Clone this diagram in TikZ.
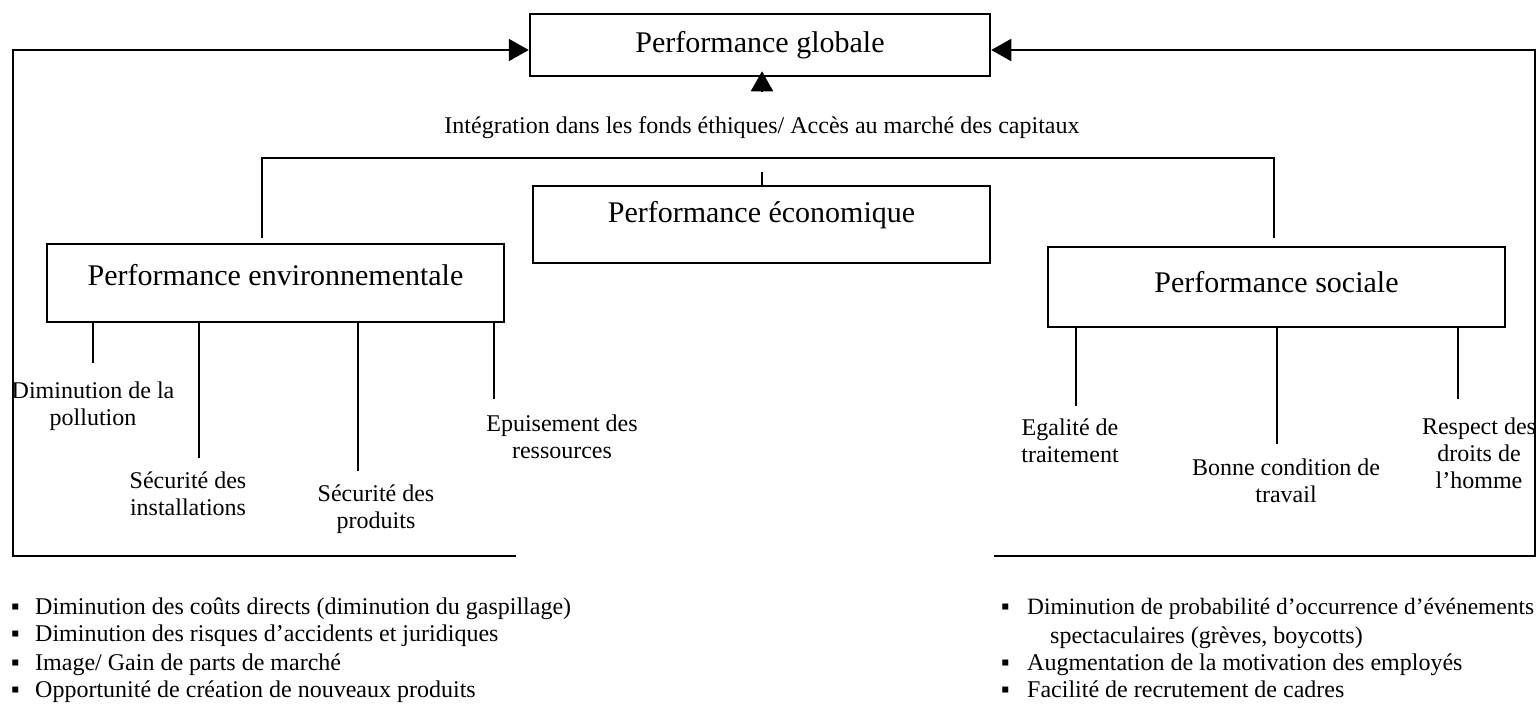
\documentclass[tikz,border=0pt]{standalone}
\usepackage{fontspec}
\setmainfont{Liberation Serif}
\usetikzlibrary{arrows.meta}
\begin{document}
\begin{tikzpicture}[x=1pt,y=-1pt,
  box/.style={draw=black, line width=2.5pt, inner sep=0pt},
  ln/.style={line width=2pt, line cap=rect},
  arr/.style={line width=2pt, -{Triangle[length=20pt,width=22pt]}},
  title/.style={font=\fontsize{30}{34}\selectfont, inner sep=0pt},
  lbl/.style={font=\fontsize{24}{27}\selectfont, align=center, inner sep=0pt},
  itm/.style={font=\fontsize{24}{27}\selectfont, anchor=base west, inner sep=0pt}
]
\useasboundingbox (0,0) rectangle (1538,707);

% boxes
\node[box, minimum width=460pt, minimum height=62pt] (glob) at (760,45) {};
\node[title] (globt) at (glob.center) {Performance globale};
\node[box, minimum width=457pt, minimum height=77pt] (econ) at (761.5,224.5) {};
\node[title] (econt) at ([yshift=9pt]econ.center) {Performance économique};
\node[box, minimum width=457pt, minimum height=78pt] (env) at (275.5,283) {};
\node[title] (envt) at ([yshift=8pt]env.center) {Performance environnementale};
\node[box, minimum width=457pt, minimum height=80pt] (soc) at (1276.5,287) {};
\node[title] (soct) at ([yshift=5pt]soc.center) {Performance sociale};

% integration
\node[lbl] (integ) at (762,128) {Intégration dans les fonds éthiques/ Accès au marché des capitaux};
\coordinate (ua) at (762,92);
\draw[arr] (ua) -- ([yshift=6pt]ua |- glob.south);

% top bracket
\coordinate (tbl) at (262,237);
\coordinate (tbr) at (1274,237);
\draw[ln] (tbl) -- (262,158) -- (1274,158) -- (tbr);
\coordinate (tick) at (762,173);
\draw[ln] (tick) -- (tick |- econ.north);

% outer feedback loops
\coordinate (bl) at (516,556);
\coordinate (lc) at (13,556);
\coordinate (lt) at (13,50);
\draw[arr] (bl) -- (lc) -- (lt) -- (lt -| glob.west);
\coordinate (br) at (994,556);
\coordinate (rc) at (1535,556);
\coordinate (rt) at (1535,50);
\draw[arr] (br) -- (rc) -- (rt) -- (rt -| glob.east);

% environmental sub-items
\coordinate (e1) at (93,362);
\coordinate (e2) at (199,457);
\coordinate (e3) at (358,470);
\coordinate (e4) at (494,398);
\foreach \c in {e1,e2,e3,e4} \draw[ln] (\c |- env.south) -- (\c);
\node[lbl] (l1) at (93,406) {Diminution de la\\pollution};
\node[lbl] (l2) at (188,494) {Sécurité des\\installations};
\node[lbl] (l3) at (376,509) {Sécurité des\\produits};
\node[lbl] (l4) at (562,437) {Epuisement des\\ressources};

% social sub-items
\coordinate (s1) at (1076,405);
\coordinate (s2) at (1277,443);
\coordinate (s3) at (1458,398);
\foreach \c in {s1,s2,s3} \draw[ln] (\c |- soc.south) -- (\c);
\node[lbl] (m1) at (1070,441) {Egalité de\\traitement};
\node[lbl] (m2) at (1286,481) {Bonne condition de\\travail};
\node[lbl] (m3) at (1479,453) {Respect des\\droits de\\l'homme};

% bullet lists
\node[itm] (bA1) at (11,614) {▪};
\node[itm] (tA1) at (35,614) {Diminution des coûts directs (diminution du gaspillage)};
\node[itm] (bA2) at (11,641) {▪};
\node[itm] (tA2) at (35,641) {Diminution des risques d'accidents et juridiques};
\node[itm] (bA3) at (11,670) {▪};
\node[itm] (tA3) at (35,670) {Image/ Gain de parts de marché};
\node[itm] (bA4) at (11,697) {▪};
\node[itm] (tA4) at (35,697) {Opportunité de création de nouveaux produits};

\node[itm] (bB1) at (1001,614) {▪};
\node[itm, font=\fontsize{23.4}{27}\selectfont] (tB1) at (1027,614) {Diminution de probabilité d'occurrence d'événements};
\node[itm] (tB1b) at (1050,643) {spectaculaires (grèves, boycotts)};
\node[itm] (bB2) at (1001,670) {▪};
\node[itm] (tB2) at (1027,670) {Augmentation de la motivation des employés};
\node[itm] (bB3) at (1001,697) {▪};
\node[itm] (tB3) at (1027,697) {Facilité de recrutement de cadres};
\end{tikzpicture}
\end{document}
